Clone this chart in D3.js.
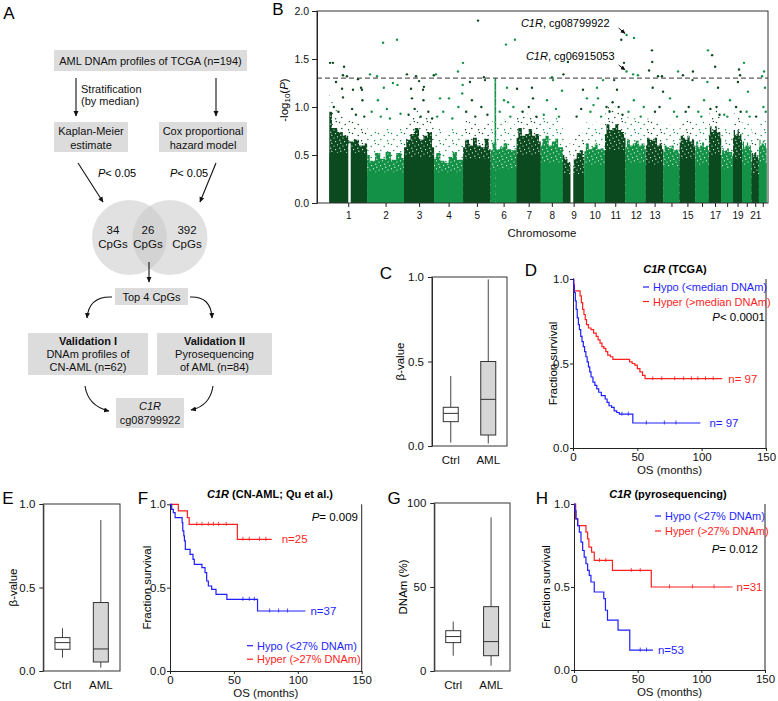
<!DOCTYPE html>
<html><head><meta charset="utf-8">
<script src="https://cdn.jsdelivr.net/npm/d3@7"></script>
<style>
body{margin:0;background:#fff}
svg{display:block;font-family:Arial,"Liberation Sans",sans-serif}
</style></head><body>
<svg id="fig" width="778" height="701"></svg>
<script>
// ---------------- DATA ----------------
// Panel A (flow chart texts)
const flowTop = "AML DNAm profiles of TCGA (n=194)";
const flowMethods = [["Kaplan-Meier","estimate"],["Cox proportional","hazard model"]];
const flowStratNote = ["Stratification","(by median)"];
const flowPvals = ["0.05","0.05"];
const vennCounts = [34, 26, 392];
const flowTop4 = "Top 4 CpGs";
const flowValidation = [["Validation I","DNAm profiles of","CN-AML (n=62)"],["Validation II","Pyrosequencing","of AML (n=84)"]];
const flowResult = ["C1R","cg08799922"];

// Panel B (Manhattan plot)
const chromNames = ["1","2","3","4","5","6","7","8","9","10","11","12","13","14","15","16","17","18","19","20","21","22"];
const chromLengthMb = [249,243,198,191,181,171,159,146,141,136,135,134,115,107,103,90,81,78,59,63,48,51];
const chromTickLabels = ["1","2","3","4","5","6","7","8","9","10","11","12","13","15","17","19","21"];
const chromGaps = [["1",125,141],["9",50,68]];
const chromSolid = [0.52,0.32,0.48,0.32,0.46,0.36,0.5,0.42,0.3,0.4,0.55,0.42,0.4,0.38,0.46,0.4,0.5,0.36,0.46,0.4,0.3,0.42];
const chromDense = [
 [0.95,0.78,0.74,0.7,0.64,0.66,0.6,0.62],
 [0.5,0.44,0.52,0.46,0.53,0.45,0.52,0.47],
 [0.58,0.66,0.72,0.78,0.66,0.7,0.74,0.58],
 [0.46,0.52,0.44,0.42,0.48,0.53,0.45,0.45],
 [0.58,0.66,0.6,0.68,0.6,0.58,0.67,0.56],
 [0.55,0.63,0.56,0.58,0.62,0.56,0.55,0.57],
 [0.68,0.78,0.7,0.72,0.77,0.7,0.72,0.64],
 [0.6,0.67,0.7,0.6,0.64,0.67,0.58,0.58],
 [0.5,0.46,0.42,0.36,0.46,0.52,0.55,0.48],
 [0.54,0.62,0.56,0.58,0.61,0.56,0.57,0.55],
 [0.72,0.82,0.76,0.78,0.82,0.76,0.74,0.68],
 [0.58,0.66,0.6,0.62,0.65,0.6,0.62,0.56],
 [0.6,0.68,0.66,0.65,0.68,0.6,0.62,0.56],
 [0.54,0.6,0.58,0.57,0.6,0.55,0.56,0.52],
 [0.63,0.7,0.68,0.66,0.7,0.64,0.66,0.6],
 [0.57,0.64,0.58,0.6,0.63,0.58,0.6,0.55],
 [0.7,0.8,0.74,0.76,0.8,0.74,0.74,0.68],
 [0.5,0.57,0.54,0.55,0.57,0.53,0.53,0.49],
 [0.68,0.76,0.7,0.72,0.76,0.7,0.72,0.66],
 [0.56,0.64,0.58,0.6,0.63,0.58,0.6,0.55],
 [0.44,0.52,0.5,0.52,0.53,0.48,0.5,0.45],
 [0.58,0.66,0.6,0.62,0.65,0.6,0.62,0.57]
];
const chromCloudPad = [0.2,0.28,0.2,0.28,0.22,0.26,0.2,0.24,0.22,0.24,0.2,0.26,0.22,0.24,0.2,0.24,0.2,0.24,0.2,0.24,0.22,0.24];
const chromSpikes = [["6",31,1.3]];
const manhattanHits = [
 ["1",5,1.46],["1",24,1.46],["1",97,1.42],["1",90,1.33],["1",116,1.32],["1",44,1.26],["1",84,1.19],
 ["1",189,1.29],["1",209,1.2],["1",215,1.18],["1",90,1.1],["1",156,1.18],["1",218,1.07],
 ["1",30,1.0],["1",60,0.95],["1",150,0.98],["1",175,0.92],["1",230,0.9],
 ["2",19,1.34],["2",65,1.32],["2",105,1.67],["2",197,1.7],["2",110,1.2],["2",200,1.23],["2",170,1.25],["2",71,1.07],
 ["2",30,0.95],["2",90,0.9],["2",130,0.98],["2",150,0.88],["2",220,0.93],
 ["3",19,1.34],["3",79,1.32],["3",99,1.27],["3",46,1.19],["3",131,1.21],["3",125,1.18],["3",196,1.33],["3",52,1.09],["3",128,1.07],
 ["3",30,0.92],["3",70,0.98],["3",110,0.9],["3",160,0.95],["3",185,0.88],
 ["4",12,1.34],["4",157,1.37],["4",190,1.46],["4",188,1.23],["4",39,1.09],["4",98,1.09],["4",185,1.14],
 ["4",20,0.9],["4",60,0.95],["4",120,0.88],["4",160,1.0],
 ["5",98,1.9],["5",137,1.31],["5",144,1.28],["5",45,1.26],["5",58,1.07],
 ["5",20,0.95],["5",80,0.9],["5",120,1.0],["5",160,0.92],
 ["6",101,1.65],["6",108,1.2],["6",160,1.7],["6",88,1.07],["6",115,1.05],
 ["6",60,0.95],["6",130,0.9],["6",150,1.0],
 ["7",3,1.19],["7",101,1.2],["7",108,1.09],["7",40,0.95],["7",80,1.0],["7",130,0.9],
 ["8",74,1.31],["8",81,1.28],["8",140,1.17],["8",41,1.07],["8",20,0.92],["8",100,0.98],["8",120,0.9],
 ["9",33,1.47],["9",3,1.34],["9",132,1.18],["9",90,0.9],["9",120,0.98],
 ["10",83,1.2],["10",123,1.28],["10",17,1.09],["10",90,1.09],["10",40,0.95],["10",60,1.02],["10",110,0.9],
 ["11",107,1.7],["11",125,1.46],["11",60,1.28],["11",79,1.18],["11",10,1.0],["11",30,0.95],["11",50,1.05],["11",90,1.0],["11",115,0.92],
 ["12",56,1.72],["12",50,1.34],["12",82,1.33],["12",55,1.07],["12",20,0.95],["12",100,0.9],["12",120,1.0],
 ["13",40,1.59],["13",42,1.47],["13",21,1.38],["13",80,1.32],["13",106,1.32],["13",45,1.2],["13",113,1.16],["13",60,0.95],["13",90,1.0],
 ["14",97,1.37],["14",44,1.09],["14",70,0.95],["14",90,0.9],
 ["15",22,1.33],["15",88,1.37],["15",85,1.28],["15",40,0.95],["15",60,1.0],
 ["16",84,1.59],["16",80,1.26],["16",58,1.07],["16",20,0.95],["16",40,0.9],
 ["17",21,1.54],["17",41,1.42],["17",60,1.2],["17",10,0.98],["17",50,1.0],["17",70,0.92],
 ["18",58,1.07],["18",20,0.92],["18",40,0.9],
 ["19",39,1.39],["19",46,1.33],["19",32,1.26],["19",20,1.0],["19",50,0.95],
 ["20",13,1.46],["20",39,1.16],["20",30,0.95],["20",50,0.9],
 ["21",30,0.9],
 ["22",34,1.37],["22",21,1.32],["22",40,1.2],["22",30,1.0],["22",45,0.95]
];
const highlightProbes = [
 {gene:"C1R", probe:"cg08799922", chr:"12", pos:7, value:1.75},
 {gene:"C1R", probe:"cg06915053", chr:"12", pos:7, value:1.37}
];
const manhattanYTicks = [0,0.5,1,1.5,2];

// Box plots [min, q1, median, q3, max]
const boxCategories = ["Ctrl","AML"];
const boxC = [[0.02,0.144,0.193,0.229,0.414],[0.015,0.065,0.276,0.5,0.986]];
const boxE = [[0.08,0.13,0.17,0.2,0.256],[0.02,0.054,0.132,0.41,0.904]];
const boxG = [[9.1,16.9,20.5,24,29.4],[3.2,9.1,17.5,38.3,91.4]];
const betaTicks = [0,0.5,1];
const dnamTicks = [0,50,100];

// Kaplan-Meier curves: [time (months), survival]
const kmTimeTicks = [0,50,100,150];
const kmSurvTicks = [0,0.5,1];
const kmD_hypo = [[0,1],[0.5,0.96],[1,0.92],[1.8,0.87],[2.5,0.82],[3.3,0.77],[4.2,0.73],[5,0.7],[6,0.66],[7,0.63],[8,0.6],[9,0.57],[10,0.54],[11,0.51],[12,0.48],[13,0.45],[14,0.42],[15.5,0.39],[17,0.37],[18.5,0.35],[20,0.33],[22,0.31],[25,0.29],[26.5,0.27],[28,0.25],[30,0.24],[32,0.22],[34,0.21],[36,0.2],[46.5,0.148],[99,0.148]];
const kmD_hyper = [[0,1],[0.6,0.97],[1,0.93],[5.5,0.9],[6.5,0.86],[7.5,0.82],[8.5,0.79],[9.5,0.76],[10.5,0.73],[12,0.71],[14,0.7],[16,0.68],[18,0.66],[19.5,0.64],[21,0.62],[22.5,0.6],[24,0.59],[25.5,0.57],[27,0.55],[29,0.54],[31,0.525],[44,0.51],[46,0.5],[48,0.49],[50,0.47],[52,0.45],[54,0.43],[56,0.41],[116,0.41]];
const kmD_hypoCens = [38,43,57,71,80];
const kmD_hyperCens = [62,69,79,86,92,97,103,109];
const kmF_hypo = [[0,1],[1.3,0.97],[2.6,0.95],[4,0.92],[9.5,0.89],[10,0.84],[10.8,0.81],[11.3,0.78],[12,0.73],[15.7,0.7],[18,0.67],[19,0.64],[25,0.62],[27.4,0.59],[28.7,0.54],[30,0.51],[32.6,0.49],[36,0.46],[44.5,0.43],[68.5,0.36],[106,0.36]];
const kmF_hyper = [[0,1],[6.5,0.96],[13.6,0.92],[15,0.88],[52.7,0.79],[79.6,0.79]];
const kmF_hypoCens = [57,62,66,78,85,92];
const kmF_hyperCens = [21,25,30,34,38,44,57,62,70,75];
const kmH_hypo = [[0,1],[0.8,0.96],[1.6,0.91],[2.9,0.87],[4.2,0.83],[5.5,0.77],[6.8,0.72],[8,0.68],[9.4,0.64],[10.7,0.6],[12,0.57],[13.3,0.53],[15.9,0.47],[23.4,0.43],[24.7,0.36],[26.3,0.3],[34.6,0.24],[43.8,0.12],[62,0.12]];
const kmH_hyper = [[0,1],[1.3,0.91],[2.9,0.87],[9.4,0.83],[10.7,0.79],[11.7,0.74],[13.8,0.71],[15.9,0.66],[30.2,0.6],[60.7,0.5],[124.5,0.5]];
const kmH_hypoCens = [52,57];
const kmH_hyperCens = [20,25,45,52,75,93,110];

// ---------------- DRAWING ----------------
const svg = d3.select("#fig");
const BLUE = "#1f1fff", RED = "#ff1f1f";
const DARKG = "#0b4a1e", LIGHTG = "#139146";
const defs = svg.append("defs");
defs.append("marker").attr("id","ah").attr("viewBox","0 0 10 10").attr("refX",9).attr("refY",5)
  .attr("markerWidth",5).attr("markerHeight",5).attr("orient","auto")
  .append("path").attr("d","M0,0.5 L10,5 L0,9.5 z").attr("fill","#111");

function letter(t,x,y){ svg.append("text").attr("x",x).attr("y",y).attr("font-size",17)
  .attr("text-anchor","middle").attr("dominant-baseline","central").text(t); }
function ctext(g,x,y,s,size,opts={}){
  const t=g.append("text").attr("x",x).attr("y",y).attr("font-size",size||11)
    .attr("text-anchor",opts.anchor||"middle").attr("dominant-baseline","central").attr("fill",opts.fill||"#111");
  if(opts.bold) t.attr("font-weight","bold");
  if(opts.italic) t.attr("font-style","italic");
  t.text(s); return t;
}
function styleAxis(g,size){ g.attr("font-size",size).attr("font-family",'Arial,"Liberation Sans",sans-serif');
  g.selectAll("path,line").attr("stroke","#222"); g.selectAll("text").attr("fill","#111"); }

// ===== Panel A =====
(function(){
  const g = svg.append("g");
  const BOX = "#dcdcdc";
  const rect=(x,y,w,h)=>g.append("rect").attr("x",x).attr("y",y).attr("width",w).attr("height",h).attr("fill",BOX);
  const arrow=(d)=>g.append("path").attr("d",d).attr("fill","none").attr("stroke","#111").attr("stroke-width",1.1).attr("marker-end","url(#ah)");
  rect(54,50,193,21); ctext(g,150.5,61,flowTop,11);
  arrow("M76,78 L76,116"); arrow("M216,78 L216,116");
  ctext(g,81,89,flowStratNote[0],11,{anchor:"start"}); ctext(g,81,101,flowStratNote[1],11,{anchor:"start"});
  rect(54,122,74,30); ctext(g,91,131,flowMethods[0][0],11); ctext(g,91,145,flowMethods[0][1],11);
  rect(159,122,88,30); ctext(g,203,131,flowMethods[1][0],11); ctext(g,203,145,flowMethods[1][1],11);
  arrow("M78,163 L103,202"); arrow("M216,163 L200,202");
  [[98,flowPvals[0]],[170,flowPvals[1]]].forEach(([x,v])=>{
    const t=g.append("text").attr("x",x).attr("y",173).attr("font-size",11).attr("dominant-baseline","central");
    t.append("tspan").attr("font-style","italic").text("P"); t.append("tspan").text("< "+v);
  });
  g.append("circle").attr("cx",129.5).attr("cy",237.5).attr("r",37.5).attr("fill","#c8c8c8").attr("fill-opacity",0.55);
  g.append("circle").attr("cx",170).attr("cy",237.5).attr("r",37.5).attr("fill","#c8c8c8").attr("fill-opacity",0.55);
  [[113,vennCounts[0]],[148,vennCounts[1]],[187,vennCounts[2]]].forEach(([x,v])=>{
    ctext(g,x,230,String(v),11.5); ctext(g,x,244,"CpGs",11.5);
  });
  arrow("M149,262 L149,282");
  rect(115,288,73,17); ctext(g,151.5,297,flowTop4,11);
  arrow("M112,297 Q89,296 87,318"); arrow("M190,297 Q211,296 212,318");
  rect(28,333,120,42); rect(157,333,115,42);
  ctext(g,88,341,flowValidation[0][0],11,{bold:true}); ctext(g,88,354,flowValidation[0][1],11); ctext(g,88,367,flowValidation[0][2],11);
  ctext(g,214.5,341,flowValidation[1][0],11,{bold:true}); ctext(g,214.5,354,flowValidation[1][1],11); ctext(g,214.5,367,flowValidation[1][2],11);
  arrow("M85,386 Q88,406 109,411"); arrow("M213,386 Q210,406 191,410");
  rect(116,398,68,30); ctext(g,150,406,flowResult[0],11,{italic:true}); ctext(g,150,420,flowResult[1],11);
})();
letter("A",9,13);

// ===== Panel B =====
(function(){
  const g = svg.append("g");
  const x = d3.scaleLinear().domain([-81, 2888]).range([317, 768]);
  const y = d3.scaleLinear().domain([0, 2]).range([203, 11]);
  const starts = {}; let cum = 0;
  chromNames.forEach((c,i)=>{ starts[c]=cum; cum+=chromLengthMb[i]; });
  const colorOf = c => (+c % 2 === 1) ? DARKG : LIGHTG;
  // speckle textures (style only)
  [["d",DARKG],["l",LIGHTG]].forEach(([k,col])=>{
    const pa = defs.append("pattern").attr("id","pa"+k).attr("patternUnits","userSpaceOnUse").attr("width",9).attr("height",8);
    pa.append("rect").attr("width",9).attr("height",8).attr("fill",col);
    [[1,2],[4.5,0.8],[2.6,5.6],[6.8,4.2],[7.8,7.2]].forEach(([cx,cy])=>pa.append("circle").attr("cx",cx).attr("cy",cy).attr("r",0.6).attr("fill","#fff"));
    const pb = defs.append("pattern").attr("id","pb"+k).attr("patternUnits","userSpaceOnUse").attr("width",13).attr("height",11);
    [[1.5,1.5],[7.2,3.4],[3.8,7.6],[10.6,8.8],[11.4,0.6]].forEach(([cx,cy])=>pb.append("circle").attr("cx",cx).attr("cy",cy).attr("r",0.75).attr("fill",col));
  });
  const areaLin = d3.area().x(d=>x(d[0])).y0(y(0)).y1(d=>y(d[1]));
  const areaStep = d3.area().x(d=>x(d[0])).y0(y(0)).y1(d=>y(d[1])).curve(d3.curveStep);
  chromNames.forEach((c,i)=>{
    const s=starts[c], L=chromLengthMb[i], prof=chromDense[i], n=prof.length;
    const k = (+c%2===1)?"d":"l";
    const pos = j => s + L*j/(n-1);
    const cloud = prof.map((v,j)=>[pos(j), v+chromCloudPad[i]]);
    const dense = prof.map((v,j)=>[pos(j), v]);
    g.append("path").datum(cloud).attr("d",areaLin).attr("fill",`url(#pb${k})`);
    g.append("path").datum(dense).attr("d",areaStep).attr("fill",`url(#pa${k})`);
    g.append("rect").attr("x",x(s)).attr("width",x(s+L)-x(s)).attr("y",y(chromSolid[i])).attr("height",y(0)-y(chromSolid[i])).attr("fill",colorOf(c));
  });
  chromSpikes.forEach(([c,p,v])=>{
    const k = (+c%2===1)?"d":"l";
    g.append("rect").attr("x",x(starts[c]+p)-0.8).attr("width",1.6).attr("y",y(v)).attr("height",y(0)-y(v)).attr("fill",`url(#pa${k})`);
  });
  chromGaps.forEach(([c,a,b])=>{
    g.append("rect").attr("x",x(starts[c]+a)).attr("width",x(starts[c]+b)-x(starts[c]+a)).attr("y",y(0.62)).attr("height",y(0)-y(0.62)).attr("fill","#fff");
  });
  g.selectAll("circle.hit").data(manhattanHits.concat(highlightProbes.map(h=>[h.chr,h.pos,h.value]))).enter()
    .append("circle").attr("cx",d=>x(starts[d[0]]+d[1])).attr("cy",d=>y(d[2])).attr("r",1.2).attr("fill",d=>colorOf(d[0]));
  // threshold line
  g.append("line").attr("x1",317).attr("x2",768).attr("y1",y(-Math.log10(0.05))).attr("y2",y(-Math.log10(0.05)))
    .attr("stroke","#333").attr("stroke-dasharray","5,3").attr("stroke-width",1);
  // frame & axes
  g.append("rect").attr("x",317).attr("y",11).attr("width",451).attr("height",192).attr("fill","none").attr("stroke","#333");
  const ya = g.append("g").attr("transform","translate(317,0)")
    .call(d3.axisLeft(y).tickValues(manhattanYTicks).tickFormat(d3.format(".1f")).tickSize(5).tickPadding(3).tickSizeOuter(0));
  styleAxis(ya,10.5);
  const centers = chromNames.map((c,i)=>starts[c]+chromLengthMb[i]/2);
  const xa = g.append("g").attr("transform","translate(0,203)")
    .call(d3.axisBottom(x).tickValues(centers).tickFormat((d,i)=>chromTickLabels.includes(chromNames[i])?chromNames[i]:"").tickSize(4).tickPadding(5).tickSizeOuter(0));
  styleAxis(xa,10);
  xa.select(".domain").remove();
  ctext(g,542,233,"Chromosome",11.5);
  const yl = g.append("text").attr("transform","translate(284,100) rotate(-90)").attr("text-anchor","middle")
    .attr("dominant-baseline","central").attr("font-size",11.5);
  yl.append("tspan").text("-log"); yl.append("tspan").attr("font-size",8).attr("dy",3).text("10");
  yl.append("tspan").attr("dy",-3).text("("); yl.append("tspan").attr("font-style","italic").text("P"); yl.append("tspan").text(")");
  // annotations
  const offs = [{tx:-17,ty:-12,ax:-8,ay:-7},{tx:-12,ty:-15,ax:-8,ay:-6.5}];
  highlightProbes.forEach((h,i)=>{
    const px=x(starts[h.chr]+h.pos), py=y(h.value), o=offs[i];
    const t=g.append("text").attr("x",px+o.tx).attr("y",py+o.ty).attr("text-anchor","end").attr("dominant-baseline","central").attr("font-size",11);
    t.append("tspan").attr("font-style","italic").text(h.gene); t.append("tspan").text(", "+h.probe);
    g.append("line").attr("x1",px+o.ax).attr("y1",py+o.ay).attr("x2",px-1.5).attr("y2",py-1.5).attr("stroke","#111").attr("stroke-width",1).attr("marker-end","url(#ah)");
  });
})();
letter("B",278,9);

// ===== Box plots =====
function boxPanel(cfg){
  const g = svg.append("g");
  const x = d3.scalePoint().domain(boxCategories).range([cfg.x0,cfg.x1]).padding(0.5);
  const y = d3.scaleLinear().domain(cfg.domain).range([cfg.yBot,cfg.yTop]);
  const ya = g.append("g").attr("transform",`translate(${cfg.x0},0)`)
    .call(d3.axisLeft(y).tickValues(cfg.ticks).tickFormat(cfg.fmt).tickSize(4).tickPadding(4).tickSizeOuter(0));
  styleAxis(ya,11.5);
  g.append("rect").attr("x",cfg.x0).attr("y",cfg.yTop).attr("width",cfg.x1-cfg.x0).attr("height",cfg.yBot-cfg.yTop)
    .attr("fill","none").attr("stroke","#333");
  const bw = 15;
  cfg.stats.forEach((s,i)=>{
    const cx = x(boxCategories[i]);
    g.append("line").attr("x1",cx).attr("x2",cx).attr("y1",y(s[0])).attr("y2",y(s[1])).attr("stroke","#444");
    g.append("line").attr("x1",cx).attr("x2",cx).attr("y1",y(s[3])).attr("y2",y(s[4])).attr("stroke","#444");
    g.append("rect").attr("x",cx-bw/2).attr("width",bw).attr("y",y(s[3])).attr("height",y(s[1])-y(s[3]))
      .attr("fill",i===0?"#fff":"#d6d6d6").attr("stroke","#333");
    g.append("line").attr("x1",cx-bw/2).attr("x2",cx+bw/2).attr("y1",y(s[2])).attr("y2",y(s[2])).attr("stroke","#333");
    ctext(g,cx,cfg.yBot+14,boxCategories[i],11.5);
  });
  g.append("text").attr("transform",`translate(${cfg.ylx},${(cfg.yTop+cfg.yBot)/2}) rotate(-90)`).attr("text-anchor","middle")
    .attr("dominant-baseline","central").attr("font-size",11.5).text(cfg.ylabel);
}
boxPanel({x0:432,x1:507,yTop:277,yBot:446,domain:[0,1],ticks:betaTicks,fmt:d3.format(".1f"),stats:boxC,ylabel:"β-value",ylx:400});
boxPanel({x0:43.3,x1:120,yTop:504,yBot:671,domain:[0,1],ticks:betaTicks,fmt:d3.format(".1f"),stats:boxE,ylabel:"β-value",ylx:13});
boxPanel({x0:434.3,x1:510,yTop:503,yBot:671,domain:[0,100],ticks:dnamTicks,fmt:d3.format("d"),stats:boxG,ylabel:"DNAm (%)",ylx:403});
letter("C",386,273); letter("E",8,498); letter("G",394,498);

// ===== Kaplan-Meier =====
function kmPanel(cfg){
  const g = svg.append("g");
  const x = d3.scaleLinear().domain([0,150]).range([cfg.x0,cfg.x1]);
  const y = d3.scaleLinear().domain([0,1]).range([cfg.yBot,cfg.yTop]);
  const xa = g.append("g").attr("transform",`translate(0,${cfg.yBot})`)
    .call(d3.axisBottom(x).tickValues(kmTimeTicks).tickSize(3).tickPadding(2).tickSizeOuter(0));
  styleAxis(xa,11.5);
  const ya = g.append("g").attr("transform",`translate(${cfg.x0},0)`)
    .call(d3.axisLeft(y).tickValues(kmSurvTicks).tickFormat(d3.format(".1f")).tickSize(3).tickPadding(1).tickSizeOuter(0));
  styleAxis(ya,11.5);
  g.append("line").attr("x1",cfg.x1).attr("x2",cfg.x1).attr("y1",cfg.yTop).attr("y2",cfg.yBot).attr("stroke","#222");
  const line = d3.line().x(d=>x(d[0])).y(d=>y(d[1])).curve(d3.curveStepAfter);
  cfg.curves.forEach(c=>{
    g.append("path").datum(c.steps).attr("d",line).attr("fill","none").attr("stroke",c.color).attr("stroke-width",1.2);
    const S = t => { let v=1; c.steps.forEach(d=>{ if(d[0]<=t) v=d[1]; }); return v; };
    c.cens.forEach(t=>g.append("line").attr("x1",x(t)).attr("x2",x(t)).attr("y1",y(S(t))-2.5).attr("y2",y(S(t))+1.5).attr("stroke",c.color).attr("stroke-width",0.8));
    const last = c.steps[c.steps.length-1];
    ctext(g,x(last[0])+c.ndx,y(last[1]),c.n,11.5,{anchor:"start",fill:c.color});
  });
  const tt = g.append("text").attr("x",cfg.titleX).attr("y",cfg.yTop-10).attr("text-anchor","middle")
    .attr("dominant-baseline","central").attr("font-size",11).attr("font-weight","bold");
  tt.append("tspan").attr("font-style","italic").text("C1R"); tt.append("tspan").text(" "+cfg.title);
  cfg.legend.forEach((l,i)=>{
    const ly = cfg.legY + i*cfg.legStep;
    g.append("line").attr("x1",cfg.legX-10).attr("x2",cfg.legX-4).attr("y1",ly).attr("y2",ly).attr("stroke",l.color).attr("stroke-width",1.2);
    ctext(g,cfg.legX,ly,l.text,11,{anchor:"start",fill:l.color});
  });
  const pt = g.append("text").attr("x",cfg.pX).attr("y",cfg.pY).attr("text-anchor","end").attr("dominant-baseline","central").attr("font-size",11.5);
  pt.append("tspan").attr("font-style","italic").text("P"); pt.append("tspan").text(cfg.pText);
  ctext(g,(cfg.x0+cfg.x1)/2,cfg.yBot+22,"OS (months)",11.5);
  g.append("text").attr("transform",`translate(${cfg.ylx},${(cfg.yTop+cfg.yBot)/2}) rotate(-90)`).attr("text-anchor","middle")
    .attr("dominant-baseline","central").attr("font-size",11.5).text("Fraction survival");
}
kmPanel({x0:573,x1:766,yTop:279,yBot:448,titleX:675,title:"(TCGA)",ylx:553,
  curves:[{steps:kmD_hyper,cens:kmD_hyperCens,color:RED,n:"n= 97",ndx:6},{steps:kmD_hypo,cens:kmD_hypoCens,color:BLUE,n:"n= 97",ndx:9}],
  legend:[{text:"Hypo (<median DNAm)",color:BLUE},{text:"Hyper (>median DNAm)",color:RED}],legX:653,legY:287,legStep:14.5,
  pX:765,pY:317,pText:"< 0.0001"});
kmPanel({x0:170,x1:361.7,yTop:504.3,yBot:671,titleX:270,title:"(CN-AML; Qu et al.)",ylx:147,
  curves:[{steps:kmF_hyper,cens:kmF_hyperCens,color:RED,n:"n=25",ndx:10},{steps:kmF_hypo,cens:kmF_hypoCens,color:BLUE,n:"n=37",ndx:5}],
  legend:[{text:"Hypo (<27% DNAm)",color:BLUE},{text:"Hyper (>27% DNAm)",color:RED}],legX:257,legY:645.7,legStep:13.5,
  pX:358,pY:516.7,pText:"= 0.009"});
kmPanel({x0:574,x1:765,yTop:504,yBot:670,titleX:668,title:"(pyrosequencing)",ylx:546,
  curves:[{steps:kmH_hyper,cens:kmH_hyperCens,color:RED,n:"n=31",ndx:4},{steps:kmH_hypo,cens:kmH_hypoCens,color:BLUE,n:"n=53",ndx:5}],
  legend:[{text:"Hypo (<27% DNAm)",color:BLUE},{text:"Hyper (>27% DNAm)",color:RED}],legX:665,legY:516,legStep:15,
  pX:758,pY:549,pText:"= 0.012"});
letter("D",531,270); letter("F",143,498); letter("H",542,498);
</script></body></html>
